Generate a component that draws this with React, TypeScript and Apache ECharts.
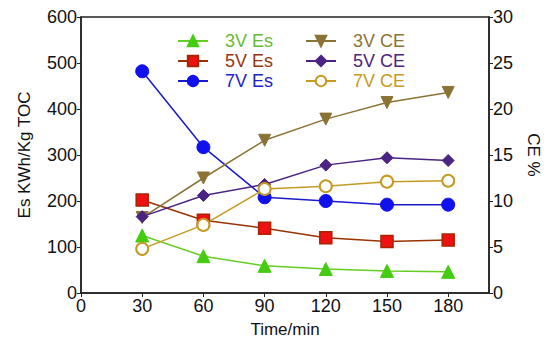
import React, { useEffect, useRef } from "react";
import * as echarts from "echarts";

const times = [30, 60, 90, 120, 150, 180];
const es3V = [125, 80, 59, 52, 48, 46];
const es5V = [202, 158, 141, 120, 112, 115];
const es7V = [482, 317, 208, 200, 192, 192];
const ce3V = [8.2, 12.5, 16.6, 18.9, 20.7, 21.8];
const ce5V = [8.3, 10.6, 11.8, 13.9, 14.7, 14.4];
const ce7V = [4.8, 7.4, 11.3, 11.6, 12.1, 12.2];

const FONT = "Liberation Sans, Arial, sans-serif";

export default function App() {
  const ref = useRef<HTMLDivElement>(null);
  useEffect(() => {
    const chart = echarts.init(ref.current!, null, { renderer: "svg" });
    const pair = (ys: number[]) => times.map((t, i) => [t, ys[i]]);
    const mk = (
      name: string,
      ys: number[],
      yAxisIndex: number,
      lineColor: string,
      markerColor: string,
      symbol: string,
      symbolSize: number,
      extra: any = {}
    ) => ({
      name,
      type: "line",
      yAxisIndex,
      data: pair(ys),
      symbol,
      symbolSize,
      lineStyle: { color: lineColor, width: 1.5 },
      itemStyle: { color: markerColor, borderColor: markerColor, borderWidth: 1 },
      ...extra,
    });
    const legendText = (c: string) => ({ color: c, fontSize: 18, fontFamily: FONT, padding: [0, 0, 0, 12] });
    chart.setOption({
      animation: false,
      grid: { left: 69, right: 61, top: 9, bottom: 57, show: true, borderColor: "#222", borderWidth: 1.5 },
      legend: [
        {
          orient: "vertical",
          left: 164,
          top: 19,
          itemWidth: 30,
          itemHeight: 13,
          itemGap: 2,
          data: [
            { name: "3V Es", textStyle: legendText("#66bb33") },
            { name: "5V Es", textStyle: legendText("#993311") },
            { name: "7V Es", textStyle: legendText("#2222cc") },
          ],
        },
        {
          orient: "vertical",
          left: 292,
          top: 19,
          itemWidth: 30,
          itemHeight: 13,
          itemGap: 2,
          data: [
            { name: "3V CE", textStyle: legendText("#8b7336") },
            { name: "5V CE", textStyle: legendText("#4b2382") },
            { name: "7V CE", textStyle: legendText("#c49a22") },
          ],
        },
      ],
      xAxis: {
        type: "value",
        min: 0,
        max: 200,
        interval: 30,
        name: "Time/min",
        nameLocation: "middle",
        nameGap: 28,
        nameTextStyle: { color: "#111", fontSize: 17, fontFamily: FONT },
        axisLine: { show: true, lineStyle: { color: "#222", width: 1.5 } },
        axisTick: { show: true, inside: false, length: 4, lineStyle: { color: "#222" } },
        axisLabel: { color: "#111", fontSize: 18, fontFamily: FONT, margin: 4, showMaxLabel: false },
        splitLine: { show: false },
      },
      yAxis: [
        {
          type: "value",
          min: 0,
          max: 600,
          interval: 100,
          name: "Es KWh/Kg TOC",
          nameLocation: "middle",
          nameGap: 48,
          nameTextStyle: { color: "#111", fontSize: 17, fontFamily: FONT },
          axisLine: { show: true, lineStyle: { color: "#222", width: 1.5 } },
          axisTick: { show: true, length: 4, lineStyle: { color: "#222" } },
          axisLabel: { color: "#111", fontSize: 18, fontFamily: FONT, margin: 4 },
          splitLine: { show: false },
        },
        {
          type: "value",
          min: 0,
          max: 30,
          interval: 5,
          position: "right",
          name: "CE %",
          nameLocation: "middle",
          nameGap: 36,
          nameRotate: -90,
          nameTextStyle: { color: "#111", fontSize: 17, fontFamily: FONT },
          axisLine: { show: true, lineStyle: { color: "#222", width: 1.5 } },
          axisTick: { show: true, length: 4, lineStyle: { color: "#222" } },
          axisLabel: { color: "#111", fontSize: 18, fontFamily: FONT, margin: 4 },
          splitLine: { show: false },
        },
      ],
      series: [
        mk("3V Es", es3V, 0, "#66cc22", "#44cc11", "triangle", 13),
        {
          ...mk("5V Es", es5V, 0, "#993300", "#ee1111", "rect", 12),
          itemStyle: { color: "#ee1111", borderColor: "#aa2200", borderWidth: 1.5 },
        },
        mk("7V Es", es7V, 0, "#1a1acc", "#1111ee", "circle", 13),
        mk("3V CE", ce3V, 1, "#8b7336", "#8b7336", "triangle", 12, { symbolRotate: 180 }),
        mk("5V CE", ce5V, 1, "#4b2382", "#4b2382", "diamond", 12),
        {
          ...mk("7V CE", ce7V, 1, "#c49a22", "#c49a22", "emptyCircle", 12),
          itemStyle: { color: "#c49a22", borderWidth: 1.5 },
        },
      ],
    });
    return () => chart.dispose();
  }, []);
  return <div ref={ref} style={{ width: 542, height: 342 }} />;
}
